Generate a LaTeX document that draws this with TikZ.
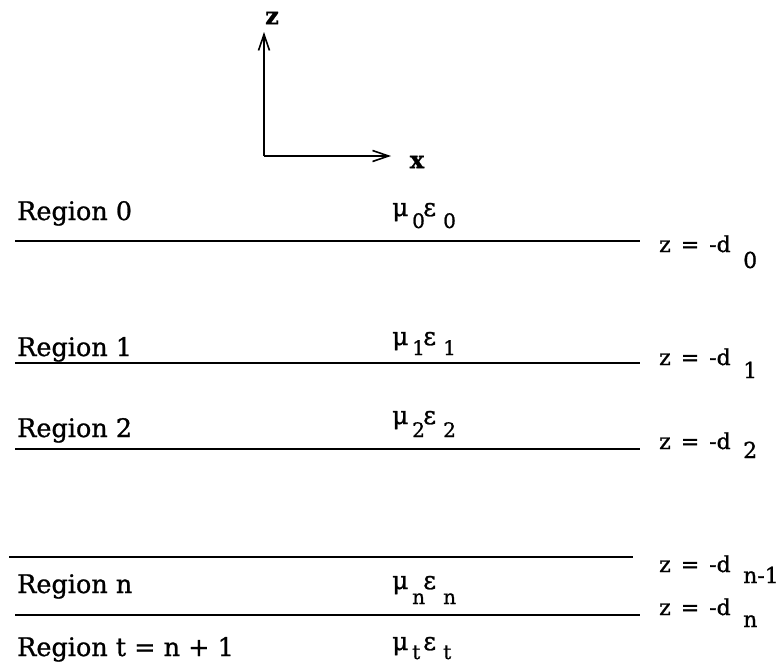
\documentclass[tikz,border=0pt]{standalone}
\usepackage{fontspec}
\setmainfont[FakeBold=1]{DejaVu Serif}
\usetikzlibrary{arrows.meta}
\newcommand\MuEps[2]{\rlap{\fontsize{25}{28}\selectfont μ}\hspace*{20pt}\raisebox{-#2}{\rlap{#1}}\hspace*{11pt}\rlap{\fontsize{25}{28}\selectfont ε}\hspace*{20pt}\raisebox{-#2}{#1}}
\newcommand\ZEq[2]{\rlap{z\hspace*{10pt}=\hspace*{10pt}-d}\hspace*{84pt}\raisebox{-#2}{#1}}
\begin{document}
\begin{tikzpicture}[x=1pt,y=-1pt,
  region/.style={anchor=base west, inner sep=0pt, font=\fontsize{25.5}{30}\selectfont},
  matl/.style={anchor=base west, inner sep=0pt, font=\fontsize{20}{24}\selectfont},
  zlab/.style={anchor=base west, inner sep=0pt, font=\fontsize{22}{26}\selectfont},
  axlab/.style={inner sep=0pt, font=\fontsize{24}{28}\selectfont\bfseries},
  layer/.style={line width=2.2pt},
  axis/.style={line width=1.6pt, -{Straight Barb[length=16pt,width=11pt,line width=1.6pt]}}]
\useasboundingbox (0,0) rectangle (780,665);
% axes
\coordinate (O) at (264,156);
\coordinate (Zt) at (264,32);
\coordinate (Xt) at (391,156);
\draw[axis] (O) -- (Zt);
\draw[axis] (O) -- (Xt);
\node[axlab] (zax) at (272,18) {z};
\node[axlab] (xax) at (417,162) {x};
% interfaces
\coordinate (a0) at (15,241);  \coordinate (b0) at (640,241);
\coordinate (a1) at (15,363);  \coordinate (b1) at (640,363);
\coordinate (a2) at (15,449);  \coordinate (b2) at (640,449);
\coordinate (a3) at (9,557);   \coordinate (b3) at (633,557);
\coordinate (a4) at (15,615);  \coordinate (b4) at (640,615);
\draw[layer] (a0) -- (b0);
\draw[layer] (a1) -- (b1);
\draw[layer] (a2) -- (b2);
\draw[layer] (a3) -- (b3);
\draw[layer] (a4) -- (b4);
% region labels
\node[region] (r0) at (17,220) {Region 0};
\node[region] (r1) at (17,356) {Region 1};
\node[region] (r2) at (17,437) {Region 2};
\node[region] (rn) at (17,593) {Region n};
\node[region] (rt) at (17,656) {Region t = n + 1};
% material labels
\node[matl] (m0) at (392,216) {\MuEps{0}{12pt}};
\node[matl] (m1) at (392,345) {\MuEps{1}{10pt}};
\node[matl] (m2) at (392,424) {\MuEps{2}{13pt}};
\node[matl] (mn) at (392,589) {\MuEps{n}{15pt}};
\node[matl] (mt) at (392,650) {\MuEps{t}{9pt}};
% interface labels
\node[zlab] (z0) at (659,252) {\ZEq{0}{16pt}};
\node[zlab] (z1) at (659,365) {\ZEq{1}{13pt}};
\node[zlab] (z2) at (659,449) {\ZEq{2}{9pt}};
\node[zlab] (z3) at (659,572) {\ZEq{n-1}{11pt}};
\node[zlab] (z4) at (659,615) {\ZEq{n}{12pt}};
\end{tikzpicture}
\end{document}
